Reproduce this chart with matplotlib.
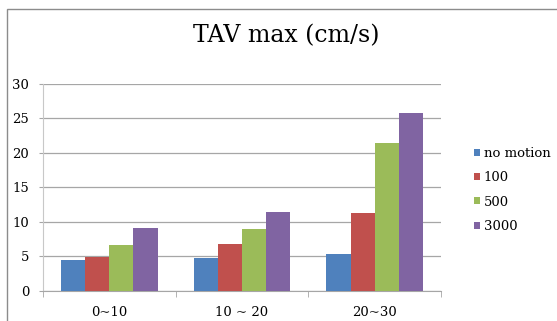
import matplotlib
matplotlib.use("Agg")
import matplotlib.pyplot as plt
import numpy as np
from matplotlib.patches import Rectangle

# datos
categorias = ['0~10', '10 ~ 20', '20~30']
series = ['no motion', '100', '500', '3000']
no_motion = [4.45, 4.65, 5.25]
v100 = [4.85, 6.75, 11.3]
v500 = [6.55, 8.95, 21.5]
v3000 = [9.15, 11.4, 25.8]
cores = ['#4F81BD', '#C0504D', '#9BBB59', '#8064A2']

plt.rcParams['font.family'] = ['DejaVu Serif']

fig = plt.figure(figsize=(5.57, 3.21), dpi=100)
fig.patch.set_facecolor('white')

# moldura do grafico (cortada a direita e em baixo)
fig.patches.append(Rectangle((7 / 557, -0.1), 1.2, 1 - 9 / 321 + 0.1,
                             transform=fig.transFigure, fill=False,
                             edgecolor='#8c8c8c', linewidth=1.0))

ax = fig.add_axes([43 / 557, 1 - 290.5 / 321, 398 / 557, 206.5 / 321])

x = np.arange(len(categorias))
w = 1 / 5.5
valores = [no_motion, v100, v500, v3000]
for i, (nome, vals) in enumerate(zip(series, valores)):
    ax.bar(x + (i - 1.5) * w, vals, width=w, color=cores[i], label=nome,
           zorder=3)

ax.set_xlim(-0.5, 2.5)
ax.set_ylim(0, 30)
ax.set_yticks(range(0, 31, 5))
ax.yaxis.grid(True, color='#a6a6a6', linewidth=0.9, zorder=0)
ax.set_xticks(x)
ax.set_xticklabels(categorias)
ax.set_xticks([-0.5, 0.5, 1.5, 2.5], minor=True)

ax.tick_params(axis='x', which='major', length=0, pad=11, labelsize=9.5)
ax.tick_params(axis='x', which='minor', length=4, color='#a6a6a6', direction='out')
ax.tick_params(axis='y', length=3, color='#a6a6a6', pad=7, labelsize=9.5)

for s in ['top', 'right']:
    ax.spines[s].set_visible(False)
ax.spines['left'].set_color('#c8c8c8')
ax.spines['bottom'].set_color('#a6a6a6')

fig.text(286 / 557, 1 - 36 / 321, 'TAV max (cm/s)', ha='center', va='center',
         fontsize=17)

leg = ax.legend(loc='center left', bbox_to_anchor=(474 / 557, 1 - 190 / 321),
                bbox_transform=fig.transFigure, frameon=False, fontsize=9.5,
                handlelength=0.45, handleheight=0.45, handletextpad=0.3,
                labelspacing=0.85, borderpad=0, borderaxespad=0)

plt.savefig("out.png", dpi=100)
